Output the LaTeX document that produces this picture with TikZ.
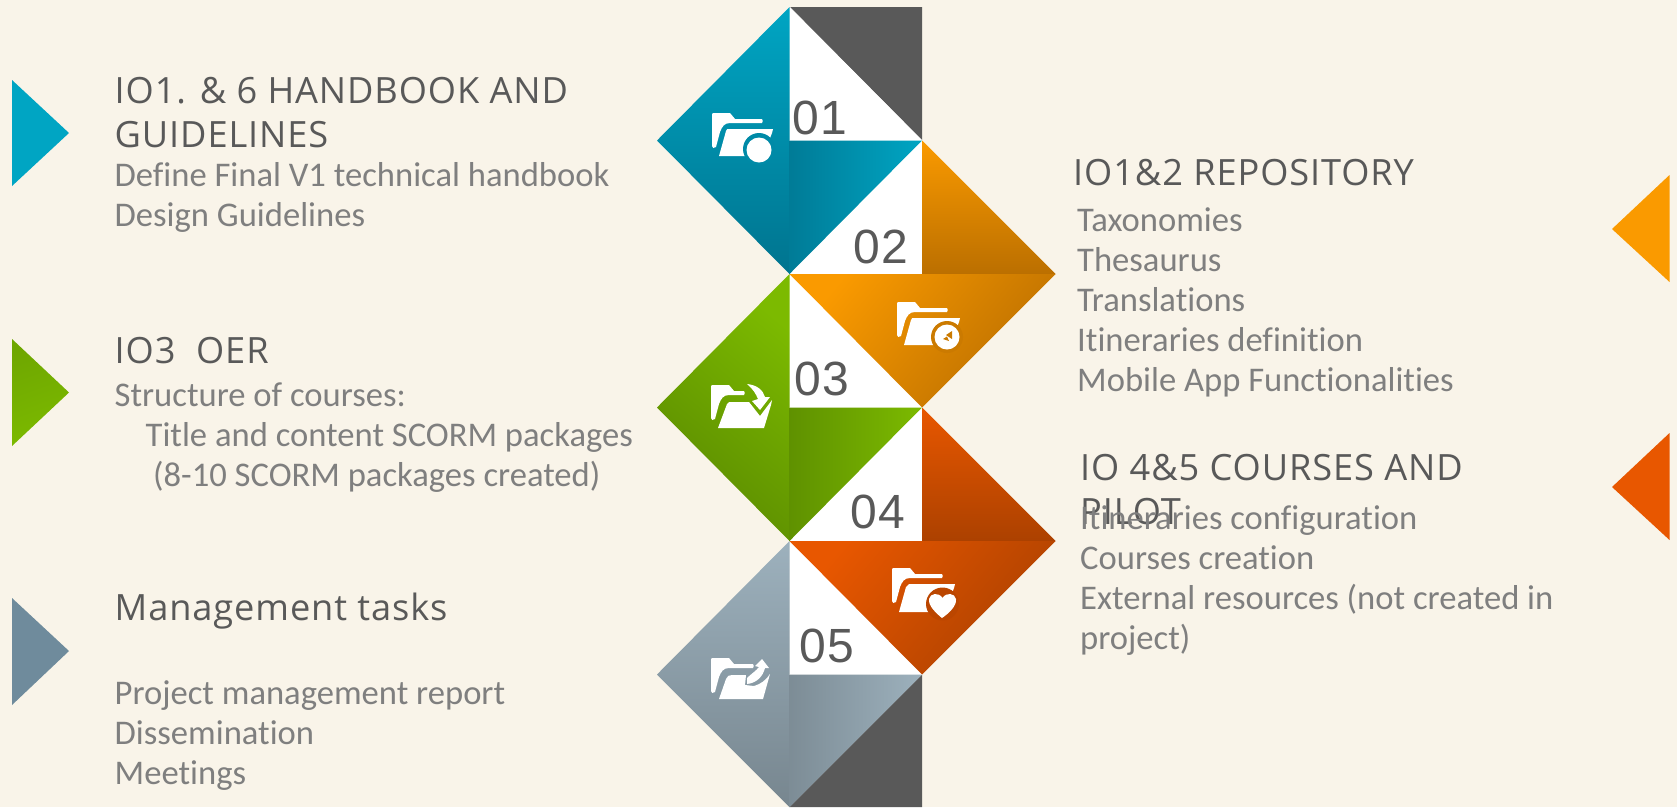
\documentclass[tikz,border=0pt]{standalone}
\usepackage{fontspec}
\setmainfont[Ligatures=NoCommon]{Carlito}
\newfontfamily\headfont[LetterSpace=2.5]{Open Sans}
\newfontfamily\numfont[LetterSpace=3]{Liberation Sans}
\definecolor{bgc}{HTML}{F9F4E9}
\definecolor{darkc}{HTML}{595959}
\definecolor{bodyc}{HTML}{7F7F7F}
\definecolor{tealL}{HTML}{00A5C3}
\definecolor{tealD}{HTML}{00748F}
\definecolor{orgL}{HTML}{FA9A00}
\definecolor{orgD}{HTML}{BB6F00}
\definecolor{grnL}{HTML}{7CBA00}
\definecolor{grnD}{HTML}{5A8A00}
\definecolor{redL}{HTML}{E85700}
\definecolor{redD}{HTML}{AC4100}
\definecolor{gryL}{HTML}{9DB1BD}
\definecolor{gryD}{HTML}{77868F}
\definecolor{gryA}{HTML}{6F8B9C}
\tikzset{
  headtxt/.style={anchor=base west,inner sep=0pt,text=darkc,font=\headfont\fontsize{36.2}{40}\selectfont},
  bodytxt/.style={anchor=base west,inner sep=0pt,text=bodyc,font=\fontsize{34.6}{40}\selectfont},
  numtxt/.style={anchor=base west,inner sep=0pt,text=darkc,font=\numfont\fontsize{48}{48}\selectfont},
  whitetri/.style={fill=white,draw=white,line width=0.5pt},
  icon/.style={fill=white,draw=none},
  vshade/.style 2 args={top color=#1,bottom color=#2,draw=none},
  hshade/.style 2 args={left color=#2!85!#1,right color=#1,draw=none},
  lowshade/.style 2 args={left color=#1,right color=#2,shading angle=50,draw=none},
  diagshade/.style 2 args={left color=#2,right color=#1,shading angle=140,draw=none},
}
\newcommand{\folderback}[1][50]{%
  \fill[icon] (1,0) -- (18,0) -- (23,6) -- (#1,6) .. controls (#1+1,8) .. (#1,10) -- (18,10)
    .. controls (12,10) and (10,14) .. (8,19) -- (4,34) .. controls (2,36) and (0,35) .. (0,33) -- (0,1) -- cycle;}
\begin{document}
\begin{tikzpicture}[x=1pt,y=-1pt]
\useasboundingbox (0,0) rectangle (1677,807);
\fill[bgc] (0,0) rectangle (1677,807);
% grid points
\coordinate (a0) at (789.5,7);
\coordinate (b0) at (922,7);
\coordinate (l1) at (657,140.5);
\coordinate (a1) at (789.5,140.5);
\coordinate (b1) at (922,140.5);
\coordinate (a2) at (789.5,274);
\coordinate (b2) at (922,274);
\coordinate (r2) at (1055.5,274);
\coordinate (l3) at (657,407.5);
\coordinate (a3) at (789.5,407.5);
\coordinate (b3) at (922,407.5);
\coordinate (a4) at (789.5,541);
\coordinate (b4) at (922,541);
\coordinate (r4) at (1055.5,541);
\coordinate (l5) at (657,674.5);
\coordinate (a5) at (789.5,674.5);
\coordinate (b5) at (922,674.5);
\coordinate (a6) at (789.5,807);
\coordinate (b6) at (922,807);
% dark corners
\fill[darkc] (a0) -- (b0) -- (b1) -- cycle;
\fill[darkc] (b5) -- (b6) -- (a6) -- cycle;
% white triangles
\path[whitetri] (a0) -- (b1) -- (a1) -- cycle;
\path[whitetri] (b1) -- (b2) -- (a2) -- cycle;
\path[whitetri] (a2) -- (b3) -- (a3) -- cycle;
\path[whitetri] (b3) -- (b4) -- (a4) -- cycle;
\path[whitetri] (a4) -- (b5) -- (a5) -- cycle;
% teal
\shade[vshade={tealL}{tealD}] (a0) -- (l1) -- (a2) -- cycle;
\shade[hshade={tealL}{tealD}] (a1) -- (b1) -- (a2) -- cycle;
% orange
\shade[vshade={orgL}{orgD}] (b1) -- (r2) -- (b2) -- cycle;
\shade[lowshade={orgL}{orgD}] (a2) -- (r2) -- (b3) -- cycle;
% green
\shade[diagshade={grnL}{grnD}] (a2) -- (l3) -- (a4) -- cycle;
\shade[hshade={grnL}{grnD}] (a3) -- (b3) -- (a4) -- cycle;
% red
\shade[vshade={redL}{redD}] (b3) -- (r4) -- (b4) -- cycle;
\shade[lowshade={redL}{redD}] (a4) -- (r4) -- (b5) -- cycle;
% grey
\shade[vshade={gryL}{gryD}] (a4) -- (l5) -- (a6) -- cycle;
\shade[hshade={gryL}{gryD}] (a5) -- (b5) -- (a6) -- cycle;
% side arrows
\fill[tealL] (12,80) -- (69,133) -- (12,186) -- cycle;
\shade[left color=grnL!60!grnD,right color=grnL,shading angle=20] (12,339) -- (69,392.5) -- (12,446) -- cycle;
\fill[gryA] (12,598) -- (69,651) -- (12,705) -- cycle;
\fill[orgL] (1669.5,175) -- (1612,229) -- (1669.5,282) -- cycle;
\fill[redL] (1669.5,433) -- (1612,487) -- (1669.5,540) -- cycle;
% icon 1
\begin{scope}[shift={(712,113)}]
  \folderback
  \fill[icon] (7,43) -- (14,18) .. controls (15,16) .. (17,16) -- (61,16) -- (60,20) -- (51,43) -- cycle;
  \fill[tealD!55!tealL] (47,36) circle (16);
  \fill[icon] (47,37) circle (12.5);
\end{scope}
% icon 2
\begin{scope}[shift={(897,302)}]
  \folderback
  \fill[icon] (7,43) -- (14,18) .. controls (15,16) .. (17,16) -- (63,16) -- (62,20) -- (53,43) -- cycle;
  \fill[orgD!75!orgL] (50,35) circle (16);
  \fill[icon] (50,35) circle (12.5);
  \fill[orgD!75!orgL] (55,29) -- (55,37) -- (49,33) -- cycle;
  \fill[orgD!75!orgL] (46,37) -- (50,34.5) -- (52,39) -- cycle;
\end{scope}
% icon 3
\begin{scope}[shift={(711,385)}]
  \folderback[33]
  \fill[icon] (7,43) -- (16,19) .. controls (18,17) .. (20,17) -- (38,17) -- (49,31) -- (61,15) -- (60,20) -- (53,43) -- cycle;
  \fill[icon] (36,-1) .. controls (46,0) and (52,5) .. (54,12) -- (59,12) -- (49,25) -- (41,16) -- (47,14)
     .. controls (45,9) and (42,4) .. (36,-1) -- cycle;
\end{scope}
% icon 4
\begin{scope}[shift={(892,568)}]
  \folderback
  \fill[icon] (7,44) -- (14,19) .. controls (15,17) .. (17,16) -- (63,16) -- (62,20) -- (53,44) -- cycle;
  \fill[redD!75!redL] (50.5,36) circle (16.5);
  \fill[icon] (50,50) .. controls (45,46) and (36,38) .. (37,31) .. controls (38,25) and (47,24) .. (50.5,30)
    .. controls (54,24) and (63,25) .. (64,31) .. controls (65,38) and (56,46) .. (50,50) -- cycle;
\end{scope}
% icon 5
\begin{scope}[shift={(711,658)}]
  \folderback[42]
  \fill[icon] (8,41) -- (15,21) .. controls (16,18) and (18,17) .. (21,17) -- (35,17) -- (34,27) -- (43,28)
     .. controls (50,26) and (55,22) .. (59,16) -- (52,41) -- cycle;
  \fill[icon] (36,26) -- (36,20) .. controls (40,16) and (45,13) .. (48,9) -- (44,8) -- (51,1) -- (58,10) -- (54,10)
     .. controls (52,18) and (46,25) .. (36,26) -- cycle;
\end{scope}
% numbers
\node[numtxt] (n1) at (792,134) {01};
\node[numtxt] (n2) at (853,263) {02};
\node[numtxt] (n3) at (794,395) {03};
\node[numtxt] (n4) at (850,528) {04};
\node[numtxt] (n5) at (799,662) {05};
% left texts
\node[headtxt] (h1a) at (114.5,103) {IO1. \& 6 HANDBOOK AND};
\node[headtxt] (h1b) at (114.5,147) {GUIDELINES};
\node[bodytxt] (t1a) at (114.5,186) {Define Final V1 technical handbook};
\node[bodytxt] (t1b) at (114.5,226) {Design Guidelines};
\node[headtxt] (h2) at (114.5,363) {IO3\ \ OER};
\node[bodytxt] (t2a) at (114.5,406) {Structure of courses:};
\node[bodytxt] (t2b) at (145.5,446) {Title and content SCORM packages};
\node[bodytxt] (t2c) at (153,486) {(8-10 SCORM packages created)};
\node[headtxt] (h3) at (114.5,620) {Management tasks};
\node[bodytxt] (t3a) at (114.5,704) {Project management report};
\node[bodytxt] (t3b) at (114.5,744) {Dissemination};
\node[bodytxt] (t3c) at (114.5,784) {Meetings};
% right texts
\node[headtxt] (h4) at (1073,185) {IO1\&2 REPOSITORY};
\node[bodytxt] (t4a) at (1077,231) {Taxonomies};
\node[bodytxt] (t4b) at (1077,271) {Thesaurus};
\node[bodytxt] (t4c) at (1077,311) {Translations};
\node[bodytxt] (t4d) at (1077,351) {Itineraries definition};
\node[bodytxt] (t4e) at (1077,391) {Mobile App Functionalities};
\node[headtxt] (h5a) at (1080,480) {IO 4\&5 COURSES AND};
\node[headtxt] (h5b) at (1080,524) {PILOT};
\node[bodytxt] (t5a) at (1080,529) {Itineraries configuration};
\node[bodytxt] (t5b) at (1080,569) {Courses creation};
\node[bodytxt] (t5c) at (1080,609) {External resources (not created in};
\node[bodytxt] (t5d) at (1080,649) {project)};
\end{tikzpicture}
\end{document}
